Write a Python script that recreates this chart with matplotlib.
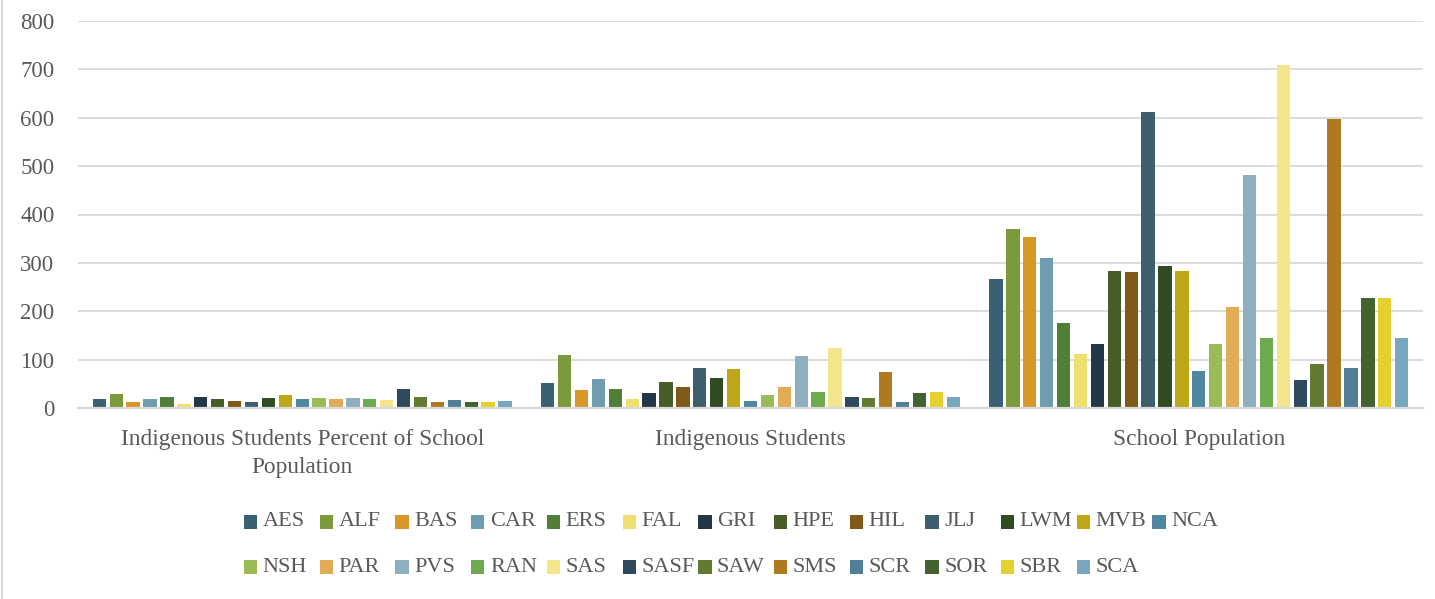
import matplotlib
matplotlib.use("Agg")
import matplotlib.pyplot as plt
from matplotlib.patches import Rectangle
from matplotlib.lines import Line2D
import numpy as np

categories = ["Indigenous Students Percent of School\nPopulation",
              "Indigenous Students", "School Population"]
series = ["AES", "ALF", "BAS", "CAR", "ERS", "FAL", "GRI", "HPE", "HIL", "JLJ",
          "LWM", "MVB", "NCA", "NSH", "PAR", "PVS", "RAN", "SAS", "SASF", "SAW",
          "SMS", "SCR", "SOR", "SBR", "SCA"]
pct_values = [19, 30, 14, 19, 23, 8, 23, 19, 15, 14, 21, 28, 20, 21, 20, 21, 19,
              17, 39, 23, 12, 17, 13, 14, 15]
indigenous_values = [52, 110, 37, 60, 40, 19, 32, 54, 43, 83, 63, 81, 15, 28, 43,
                     107, 33, 125, 23, 21, 74, 13, 32, 34, 23]
population_values = [267, 370, 354, 310, 176, 112, 132, 283, 281, 612, 293, 283,
                     78, 132, 210, 482, 145, 709, 58, 91, 597, 83, 228, 228, 145]
colors = ["#3a6173", "#7a9a3c", "#d89828", "#6e9db2", "#517e38", "#eedf70",
          "#233746", "#4a5c25", "#7f5a19", "#3d5f6e", "#324b23", "#bfa817",
          "#4f86a0", "#9bbb59", "#e0ac56", "#8eafc0", "#6eaa4e", "#f2e58c",
          "#2f4a5c", "#617c32", "#ad7a22", "#517f98", "#42632e", "#e5d030",
          "#79a7bf"]
yticks = [0, 100, 200, 300, 400, 500, 600, 700, 800]

TXT = "#595959"
GRID = "#d9d9d9"
FONT = ["Liberation Serif", "DejaVu Serif"]

W, H = 1435, 599
fig = plt.figure(figsize=(W / 100, H / 100), dpi=100)
ax = fig.add_axes([78 / W, 1 - 408.3 / H, (1423 - 78) / W, (408.3 - 20.7) / H])

data = np.array([pct_values, indigenous_values, population_values])  # cats x series
n = len(series)
step = 0.0377
bw = 0.0297
x = np.arange(len(categories))
for i, (name, c) in enumerate(zip(series, colors)):
    ax.bar(x + (i - (n - 1) / 2) * step, data[:, i], width=bw, color=c,
           label=name, zorder=3)

ax.set_xlim(-0.5, len(categories) - 0.5)
ax.set_ylim(0, 800)
ax.set_yticks(yticks)
ax.set_yticklabels([str(t) for t in yticks], family=FONT, fontsize=16.5, color=TXT)
ax.set_xticks(x)
ax.set_xticklabels(categories, family=FONT, fontsize=16.8, color=TXT,
                   linespacing=1.42)
ax.tick_params(axis="both", length=0)
ax.tick_params(axis="y", pad=17)
ax.tick_params(axis="x", pad=15)
ax.grid(axis="y", color=GRID, linewidth=1.3, zorder=0)
for s in ["top", "right", "left"]:
    ax.spines[s].set_visible(False)
ax.spines["bottom"].set_color(GRID)
ax.spines["bottom"].set_linewidth(1.6)
ax.spines["bottom"].set_zorder(4)

# legend (Excel style: uniform column pitch, row-major, 13 columns)
ncol = 13
x0, pitch = 244, 75.7
rows_y = [522, 567]
msize = 13.3
for i, (name, c) in enumerate(zip(series, colors)):
    r, col = divmod(i, ncol)
    mx = x0 + col * pitch
    my = rows_y[r]
    fig.add_artist(Rectangle((mx / W, 1 - (my + msize / 2) / H), msize / W,
                             msize / H, transform=fig.transFigure,
                             facecolor=c, edgecolor="none"))
    fig.text((mx + msize + 5.5) / W, 1 - my / H, name, family=FONT,
             fontsize=16, color=TXT, va="center", ha="left")

# chart border on the left
fig.add_artist(Line2D([2 / W, 2 / W], [0, 1], transform=fig.transFigure,
                      color=GRID, linewidth=1.5))

fig.savefig("out.png", dpi=100)
